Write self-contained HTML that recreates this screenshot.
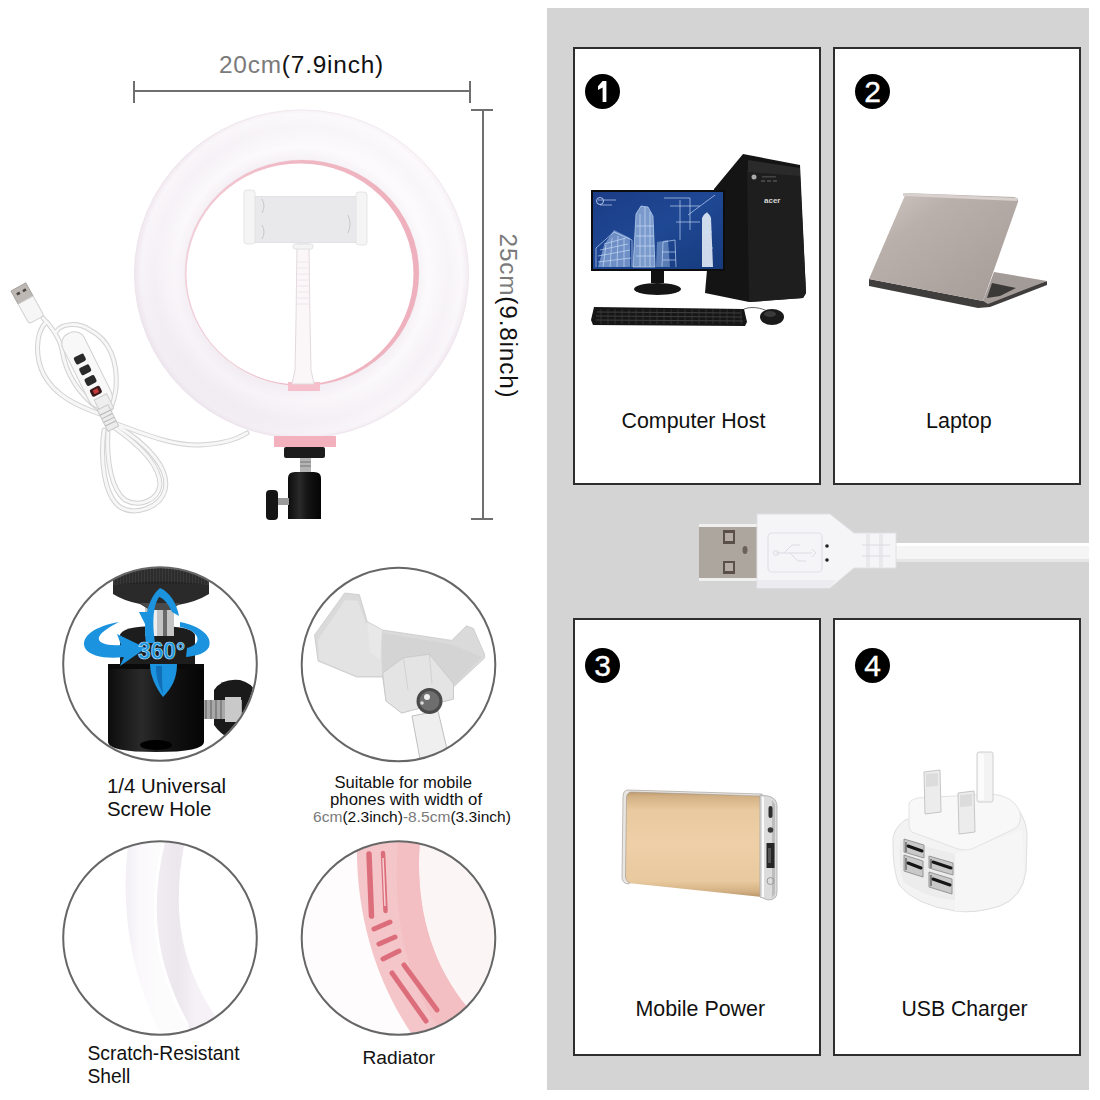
<!DOCTYPE html>
<html><head><meta charset="utf-8">
<style>
html,body{margin:0;padding:0;background:#fff;}
body{width:1100px;height:1100px;position:relative;overflow:hidden;font-family:"Liberation Sans",sans-serif;color:#111;}
.t{position:absolute;white-space:nowrap;line-height:1;}
.g{color:#7a7a7a;}
#panel{position:absolute;left:547px;top:8px;width:542px;height:1082px;background:#d4d4d4;}
.box{position:absolute;width:244px;height:434px;background:#fff;border:2px solid #2e2e2e;}
.num{position:absolute;width:35px;height:35px;border-radius:50%;background:#000;color:#fff;font-weight:normal;font-size:30px;line-height:36px;text-align:center;-webkit-text-stroke:0.35px #fff;}
svg{position:absolute;left:0;top:0;}
</style></head><body>
<div id="panel"></div>
<div class="box" style="left:573px;top:47px"></div>
<div class="box" style="left:833px;top:47px"></div>
<div class="box" style="left:573px;top:618px"></div>
<div class="box" style="left:833px;top:618px"></div>

<svg width="1100" height="1100" viewBox="0 0 1100 1100">
<defs>
<radialGradient id="ringG" cx="301.5" cy="274" r="167" gradientUnits="userSpaceOnUse">
 <stop offset="0.69" stop-color="#f4eff4"/>
 <stop offset="0.76" stop-color="#fbf9fb"/>
 <stop offset="0.88" stop-color="#f5f1f6"/>
 <stop offset="0.96" stop-color="#f9f6f9"/>
 <stop offset="1" stop-color="#efe5ed"/>
</radialGradient>
<linearGradient id="ringShade" x1="420" y1="130" x2="170" y2="420" gradientUnits="userSpaceOnUse">
 <stop offset="0" stop-color="#ffffff" stop-opacity="0.5"/>
 <stop offset="0.45" stop-color="#ffffff" stop-opacity="0"/>
 <stop offset="1" stop-color="#e6dbe8" stop-opacity="0.55"/>
</linearGradient>
<linearGradient id="pinkEdge" x1="186" y1="0" x2="418" y2="0" gradientUnits="userSpaceOnUse">
 <stop offset="0" stop-color="#f3cdd7"/><stop offset="0.4" stop-color="#f0b9c5"/><stop offset="1" stop-color="#eeb0bc"/>
</linearGradient>
<linearGradient id="blackG" x1="0" x2="1" y1="0" y2="0">
 <stop offset="0" stop-color="#0c0c0c"/><stop offset="0.35" stop-color="#2a2a2a"/><stop offset="0.6" stop-color="#141414"/><stop offset="1" stop-color="#050505"/>
</linearGradient>
<clipPath id="cA"><circle cx="160" cy="664" r="96"/></clipPath>
<clipPath id="cB"><circle cx="398.5" cy="664.5" r="96"/></clipPath>
<clipPath id="cC"><circle cx="160" cy="938" r="96"/></clipPath>
<clipPath id="cD"><circle cx="398.5" cy="938" r="96"/></clipPath>
</defs>
<!-- dimension lines -->
<g fill="#6f6f6f">
 <rect x="133" y="90" width="338" height="2"/>
 <rect x="133" y="81" width="2" height="22"/>
 <rect x="469" y="81" width="2" height="22"/>
 <rect x="482" y="109" width="2" height="411"/>
 <rect x="471" y="109" width="22" height="2"/>
 <rect x="471" y="518" width="22" height="2"/>
</g>
<!-- ring light -->
<path fill-rule="evenodd" fill="url(#ringG)" stroke="#ede4eb" stroke-width="1" d="M134.5,274 a167,164 0 1,0 334,0 a167,164 0 1,0 -334,0 Z M185,273 a117,113 0 1,0 234,0 a117,113 0 1,0 -234,0 Z"/>
<path fill-rule="evenodd" fill="url(#ringShade)" d="M134.5,274 a167,164 0 1,0 334,0 a167,164 0 1,0 -334,0 Z M186,273 a116,113 0 1,0 232,0 a116,113 0 1,0 -232,0 Z"/>
<path fill-rule="evenodd" fill="url(#pinkEdge)" d="M185,273 a117,113 0 1,0 234,0 a117,113 0 1,0 -234,0 Z M186.5,274 a113.5,110.5 0 1,0 227,0 a113.5,110.5 0 1,0 -227,0 Z"/>
<!-- pink block inside bottom -->
<rect x="288" y="382" width="32" height="9" fill="#f5c0cb"/>
<!-- gooseneck -->
<path d="M297,244 L309,244 L310,320 L311,370 L314,384 L292,384 L295,370 L296,320 Z" fill="#fbf6f8" stroke="#e3d9df" stroke-width="1"/>
<g stroke="#ece2e7" stroke-width="0.8">
 <line x1="297" y1="262" x2="309" y2="262"/><line x1="297" y1="268" x2="309" y2="268"/><line x1="297" y1="274" x2="309" y2="274"/><line x1="297" y1="280" x2="309" y2="280"/><line x1="296" y1="286" x2="310" y2="286"/><line x1="296" y1="292" x2="310" y2="292"/><line x1="296" y1="298" x2="310" y2="298"/><line x1="296" y1="304" x2="310" y2="304"/>
</g>
<rect x="293" y="244" width="20" height="5" rx="2" fill="#f4f4f4" stroke="#dddddd" stroke-width="0.8"/>
<!-- phone holder -->
<rect x="253" y="196.5" width="105" height="46" fill="#e9e9eb" stroke="#dedee0" stroke-width="0.8"/>
<path d="M262,199 Q266,206 262,213 M262,225 Q266,232 262,239 M348,215 Q352,224 348,233" stroke="#c8c8ca" stroke-width="1" fill="none"/>
<rect x="244" y="190" width="11" height="54" rx="3" fill="#f5f5f5" stroke="#e0e0e0" stroke-width="0.8"/>
<rect x="356" y="192" width="11" height="53" rx="3" fill="#f5f5f5" stroke="#e0e0e0" stroke-width="0.8"/>
<!-- pink mount -->
<rect x="274" y="436" width="62" height="11" fill="#f2b1bd"/>
<rect x="284" y="447" width="41" height="11" rx="2" fill="#1c1c1c"/>
<rect x="300" y="458" width="11" height="14" fill="#b4b4b4"/>
<line x1="300" y1="462" x2="311" y2="462" stroke="#777" stroke-width="1"/><line x1="300" y1="466" x2="311" y2="466" stroke="#777" stroke-width="1"/>
<path d="M288,478 Q288,472 295,472 L314,472 Q321,472 321,478 L321,519 L288,519 Z" fill="url(#blackG)"/>
<rect x="275" y="498" width="14" height="7" fill="#9a9a9a"/>
<rect x="266" y="490" width="12" height="30" rx="4" fill="#151515"/>
<!-- cable -->
<g fill="none" stroke-linecap="round">
 <g stroke="#d2d2d2" stroke-width="5">
  <path d="M114,423 C140,432 170,446 200,445 C220,444 236,440 247,433"/>
  <path d="M104,430 C100,460 104,495 120,507 C135,516 160,508 165,490 C170,470 150,445 114,424"/>
  <path d="M108,430 C106,462 112,490 125,500 C140,508 158,500 160,485 C160,465 140,445 112,426"/>
  <path d="M43,318 C50,325 60,338 62,350 C66,375 80,395 100,410"/>
  <path d="M46,322 C34,335 36,360 44,375 C55,395 75,405 100,414"/>
  <path d="M56,332 C62,322 80,323 90,330 C110,340 118,362 116,388 C115,398 112,405 110,410"/>
 </g>
 <g stroke="#f7f7f7" stroke-width="3">
  <path d="M114,423 C140,432 170,446 200,445 C220,444 236,440 247,433"/>
  <path d="M104,430 C100,460 104,495 120,507 C135,516 160,508 165,490 C170,470 150,445 114,424"/>
  <path d="M108,430 C106,462 112,490 125,500 C140,508 158,500 160,485 C160,465 140,445 112,426"/>
  <path d="M43,318 C50,325 60,338 62,350 C66,375 80,395 100,410"/>
  <path d="M46,322 C34,335 36,360 44,375 C55,395 75,405 100,414"/>
  <path d="M56,332 C62,322 80,323 90,330 C110,340 118,362 116,388 C115,398 112,405 110,410"/>
 </g>
</g>
<!-- controller -->
<g transform="translate(87,370) rotate(63.5)">
 <rect x="-41" y="-12" width="82" height="24" rx="11" fill="#f8f8f8" stroke="#d2d2d2" stroke-width="1"/>
 <rect x="30" y="-7" width="16" height="14" fill="#eeeeee" stroke="#cfcfcf" stroke-width="1"/>
 <rect x="-17" y="-4" width="8" height="11" rx="2" fill="#2a2a2a"/>
 <rect x="-5" y="-4" width="8" height="11" rx="2" fill="#2a2a2a"/>
 <rect x="7" y="-4" width="8" height="11" rx="2" fill="#2a2a2a"/>
 <rect x="19" y="-4" width="8" height="11" rx="2" fill="#3a1a1a"/>
 <rect x="21" y="-1" width="4" height="5" fill="#c83a3a"/>
</g>
<g transform="translate(108,418) rotate(63.5)">
 <rect x="-12" y="-6" width="24" height="12" fill="#ececec" stroke="#c8c8c8" stroke-width="1"/>
 <g stroke="#b8b8b8" stroke-width="1"><line x1="-6" y1="-6" x2="-6" y2="6"/><line x1="-2" y1="-6" x2="-2" y2="6"/><line x1="2" y1="-6" x2="2" y2="6"/><line x1="6" y1="-6" x2="6" y2="6"/></g>
</g>
<!-- usb plug small -->
<g transform="translate(22,293.5) rotate(-29)">
 <rect x="-8.5" y="-7.5" width="17" height="15" fill="#bdb8b3" stroke="#a09b96" stroke-width="0.8"/>
 <rect x="-5" y="-3" width="3.5" height="2.6" fill="#4a4540"/><rect x="2" y="-3" width="3.5" height="2.6" fill="#4a4540"/>
 <path d="M-8.5,7.5 L8.5,7.5 L8.5,27 Q8.5,30 5.5,30 L-5.5,30 Q-8.5,30 -8.5,27 Z" fill="#f6f6f6" stroke="#d0d0d0" stroke-width="1"/>
</g>

<!-- circle A: ball head -->
<g clip-path="url(#cA)">
 <!-- knob right -->
 <path d="M214,690 Q222,678 240,680 Q256,684 258,700 L258,730 Q250,745 232,740 Q220,734 214,725 Z" fill="#1a1a1a"/>
 <rect x="202" y="700" width="40" height="19" fill="#a8a8a8"/>
 <rect x="225" y="697" width="16" height="25" fill="#c9c9c9"/>
 <g stroke="#6a6a6a" stroke-width="1.2"><line x1="206" y1="700" x2="206" y2="719"/><line x1="211" y1="700" x2="211" y2="719"/><line x1="216" y1="700" x2="216" y2="719"/><line x1="221" y1="700" x2="221" y2="719"/></g>
 <!-- lower cylinder -->
 <path d="M108,668 L204,668 L204,742 Q204,752 156,752 Q108,752 108,742 Z" fill="url(#blackG)"/>
 <ellipse cx="156" cy="745" rx="16" ry="5" fill="#000"/>
 <!-- upper socket -->
 <path d="M120,636 Q120,626 157,626 Q195,626 195,636 L195,668 L120,668 Z" fill="#1d1d1d"/>
 <rect x="108" y="664" width="96" height="5" fill="#0a0a0a"/>
 <!-- screw stem -->
 <rect x="145" y="600" width="29" height="36" fill="#c4c4c4"/>
 <rect x="151" y="600" width="6" height="36" fill="#eeeeee"/><rect x="163" y="600" width="4" height="36" fill="#6a6a6a"/>
 <!-- top plate -->
 <path d="M113,560 L209,560 L209,594 Q196,602 178,605 L170,610 L150,610 L140,604 Q124,601 113,594 Z" fill="#2a2a2a"/>
 <path d="M113,560 L209,560 L209,585 Q160,578 113,585 Z" fill="#3a3a3a"/>
 <g stroke="#1a1a1a" stroke-width="0.8"><line x1="116" y1="566" x2="116" y2="584"/><line x1="119" y1="566" x2="119" y2="584"/><line x1="122" y1="566" x2="122" y2="584"/><line x1="125" y1="566" x2="125" y2="584"/><line x1="128" y1="566" x2="128" y2="584"/><line x1="131" y1="566" x2="131" y2="584"/><line x1="134" y1="566" x2="134" y2="584"/><line x1="137" y1="566" x2="137" y2="584"/><line x1="140" y1="566" x2="140" y2="584"/><line x1="143" y1="566" x2="143" y2="584"/><line x1="146" y1="566" x2="146" y2="584"/><line x1="149" y1="566" x2="149" y2="584"/><line x1="152" y1="566" x2="152" y2="584"/><line x1="155" y1="566" x2="155" y2="584"/><line x1="158" y1="566" x2="158" y2="584"/><line x1="161" y1="566" x2="161" y2="584"/><line x1="164" y1="566" x2="164" y2="584"/><line x1="167" y1="566" x2="167" y2="584"/><line x1="170" y1="566" x2="170" y2="584"/><line x1="173" y1="566" x2="173" y2="584"/><line x1="176" y1="566" x2="176" y2="584"/><line x1="179" y1="566" x2="179" y2="584"/><line x1="182" y1="566" x2="182" y2="584"/><line x1="185" y1="566" x2="185" y2="584"/><line x1="188" y1="566" x2="188" y2="584"/><line x1="191" y1="566" x2="191" y2="584"/><line x1="194" y1="566" x2="194" y2="584"/><line x1="197" y1="566" x2="197" y2="584"/><line x1="200" y1="566" x2="200" y2="584"/><line x1="203" y1="566" x2="203" y2="584"/><line x1="206" y1="566" x2="206" y2="584"/></g>
 <path d="M140,603 L180,603 L172,610 L150,610 Z" fill="#4a4a4a"/>
<!-- blue arrows -->
 <path d="M146,643 C143,620 148,598 160,588 C170,592 177,604 179,616 L172,612 C168,603 163,598 159,597 C153,606 152,622 155,643 Z" fill="#1b93de"/><path d="M139,612 L152,612 L146,626 Z" fill="#1b93de"/>
 
 <path d="M150,664 L177,664 C177,678 172,688 163,697 C156,688 150,676 150,664 Z" fill="#1b93de"/>
 <path d="M156,666 L162,666 C162,676 162,684 163,694 C158,684 156,676 156,666 Z" fill="#0d5fa8" opacity="0.7"/>
 <path d="M119,622 C96,626 80,636 85,648 C90,657 108,659 124,657 L120,666 L146,648 L117,634 L121,645 C107,646 97,643 99,637 C102,631 110,627 119,622 Z" fill="#1b93de"/>
 <path d="M180,622 C200,626 213,636 209,647 C206,653 197,656 186,657 L187,648 C196,646 200,640 196,635 C192,630 186,628 180,627 Z" fill="#1b93de"/>
</g>
<text x="138" y="659" font-family="Liberation Sans" font-weight="bold" font-size="24" textLength="47" lengthAdjust="spacingAndGlyphs" fill="#1b93de" stroke="#bfe0f7" stroke-width="0.7">360°</text>
<circle cx="160" cy="664" r="96.8" fill="none" stroke="#666" stroke-width="2"/>

<!-- circle B: phone clamp -->
<g clip-path="url(#cB)">
 <path d="M314.5,635 L344.7,593 L359.4,594.7 L367.2,621.5 L382.7,630 L451.8,640.4 L466.5,625.8 L473.4,628.4 L484.6,654.3 L484.6,658 L453.5,687 L453.5,699 L401.7,713 L386,701 L382.7,677 L356.8,677 L318,661 Z" fill="#dadada" stroke="#c9c9c9" stroke-width="0.8"/>
 <path d="M318,640 L345,600 L358,601 L366,624 L380,633 L382,676 L357,676 L319,660 Z" fill="#e3e3e3"/>
 <path d="M382,633 L450,644 L482,657 L453,686 L400,660 L382,676 Z" fill="#d4d4d4"/>
 <path d="M367,622 L382,630 L380,660 L370,652 Z" fill="#e8e8e8"/>
 <path d="M382.7,673 L403.4,657.7 L429.4,654.3 L453.5,683.6 L453.5,699 L401.7,713 L386,701 Z" fill="#e4e4e4" stroke="#c6c6c6" stroke-width="0.8"/>
 <path d="M403.4,657.7 L408,690 M429.4,654.3 L432,684" stroke="#cdcdcd" stroke-width="0.8" fill="none"/>
 <path d="M412,716 L438,711 L452,770 L422,770 Z" fill="#efefef" stroke="#bfbfbf" stroke-width="1"/>
 <circle cx="429.5" cy="701" r="13" fill="#4a4a4a"/>
 <circle cx="429.5" cy="701" r="10" fill="#6e6e6e"/>
 <circle cx="427" cy="697" r="3" fill="#ededed"/>
 <circle cx="422" cy="703" r="1.8" fill="#dddddd"/>
</g>
<circle cx="398.5" cy="664.5" r="96.8" fill="none" stroke="#666" stroke-width="2"/>

<!-- circle C: shell -->
<defs><linearGradient id="shellR" x1="160" y1="0" x2="195" y2="0" gradientUnits="userSpaceOnUse">
 <stop offset="0" stop-color="#f0ebf1"/><stop offset="0.5" stop-color="#ece6ed"/><stop offset="1" stop-color="#f5f1f6"/></linearGradient>
<linearGradient id="shellL" x1="124" y1="0" x2="160" y2="0" gradientUnits="userSpaceOnUse">
 <stop offset="0" stop-color="#f1edf4"/><stop offset="0.4" stop-color="#faf8fb"/><stop offset="1" stop-color="#fdfcfd"/></linearGradient></defs>
<g clip-path="url(#cC)">
 <path d="M129,836 C121,900 126,960 160,1034 L218,1020 C176,960 172,900 186,836 Z" fill="url(#shellL)"/>
 <path d="M165,836 C149,900 151,960 190,1030 L218,1020 C176,960 172,900 186,836 Z" fill="url(#shellR)"/>
 <path d="M164,840 C149,900 151,960 188,1026" stroke="#ffffff" stroke-width="3" fill="none"/>
</g>
<circle cx="160" cy="938" r="96.8" fill="none" stroke="#666" stroke-width="2"/>

<!-- circle D: radiator -->
<g clip-path="url(#cD)">
 <rect x="300" y="840" width="200" height="200" fill="#fefcfc"/>
 <path d="M418,840 L500,840 L500,1040 L440,1040 C450,1020 460,1010 466,1005 C430,960 415,900 418,840 Z" fill="#fcf5f5"/>
 <path d="M357,840 L420,840 C415,900 428,960 468,1008 L416,1040 C380,990 355,920 357,840 Z" fill="#f5c6c9"/>
 <path d="M398,840 L420,840 C415,900 428,960 468,1008 L440,1030 C405,980 392,910 398,840 Z" fill="#f3bfc2"/>
 <g stroke="#dc6e7b" stroke-linecap="round" fill="none">
  <path d="M369,854 L371.5,916" stroke-width="5.5"/>
  <path d="M383,853 L385.5,911" stroke-width="4.5"/>
  <path d="M374,929 L390,922" stroke-width="5"/>
  <path d="M379,944 L395,937" stroke-width="5"/>
  <path d="M383,959 L399,951" stroke-width="5"/>
  <path d="M392,973 L426,1021" stroke-width="5"/>
  <path d="M404,965 L437,1010" stroke-width="5"/>
 </g>
 <path d="M383,858 L385,906" stroke="#f6d0d3" stroke-width="1.5" fill="none"/>
</g>
<circle cx="398.5" cy="938" r="96.8" fill="none" stroke="#666" stroke-width="2"/>
<defs>
<linearGradient id="lidG" x1="0" y1="0" x2="1" y2="1">
 <stop offset="0" stop-color="#d2c9c6"/><stop offset="0.3" stop-color="#b9afab"/><stop offset="0.7" stop-color="#ada39f"/><stop offset="1" stop-color="#a59b97"/>
</linearGradient>
<linearGradient id="goldG" x1="0" y1="0" x2="0" y2="1">
 <stop offset="0" stop-color="#b99467"/><stop offset="0.05" stop-color="#d2b084"/><stop offset="0.18" stop-color="#e9c99f"/><stop offset="0.5" stop-color="#eecfa7"/><stop offset="0.85" stop-color="#e9c99e"/><stop offset="0.95" stop-color="#d2b083"/><stop offset="1" stop-color="#b99467"/>
</linearGradient>
<linearGradient id="screenG" x1="0" y1="0" x2="1" y2="1">
 <stop offset="0" stop-color="#1c3c86"/><stop offset="0.5" stop-color="#1f4894"/><stop offset="1" stop-color="#163a7c"/>
</linearGradient>
</defs>
<!-- PC tower -->
<path d="M743,154 L800,165 L806,293 L803,298 L749,302 L705,293 L714,189 Z" fill="#141414"/>
<path d="M747,170 L800,175 L806,293 L803,298 L749,302 Z" fill="#1e1e1e"/>
<path d="M748,160 L800,168 L800,176 L748,172 Z" fill="#2a2a2a"/>
<circle cx="754" cy="177" r="2.5" fill="#aaa"/>
<text x="764" y="203" font-family="Liberation Sans" font-weight="bold" font-size="8" fill="#d8d8d8">acer</text><g fill="#444"><rect x="761" y="180" width="4" height="2"/><rect x="767" y="180" width="4" height="2"/><rect x="773" y="180" width="4" height="2"/><rect x="762" y="176" width="14" height="1.5"/></g>
<!-- monitor -->
<rect x="591" y="190" width="134" height="81" fill="#0d0d0d"/>
<rect x="593" y="192" width="130" height="77" fill="url(#screenG)"/>
<path d="M633,267 L636,214 L641,206 L648,207 L653,216 L655,267 Z" fill="#b9d3f5" opacity="0.6"/>
<path d="M702,267 L702,218 Q707,208 711,218 L713,267 Z" fill="#eef4fc" opacity="0.85"/>
<path d="M598,267 L604,245 L614,230 L630,238 L630,267 Z" fill="#b0cbf0" opacity="0.55"/><path d="M656,267 L657,242 L668,240 L670,267 Z" fill="#a9c6ee" opacity="0.45"/>
<g fill="none" stroke="#cfe2fb" stroke-width="0.7" opacity="0.9">
 <path d="M596,267 L596,248 L614,232 L632,240 L632,267"/>
 <path d="M598,256 L630,250 M598,262 L631,258 M600,250 L628,244 M604,244 L626,238"/>
 <path d="M603,267 L606,245 M610,267 L612,238 M617,267 L618,236 M624,267 L624,238"/>
 <path d="M633,267 L636,214 L641,206 L648,207 L653,216 L655,267 Z"/>
 <path d="M636,226 L654,226 M636,236 L654,236 M636,246 L655,246 M636,256 L655,256 M640,214 L640,267 M645,207 L645,267 M650,212 L650,267"/>
 <path d="M662,267 L663,242 L675,240 L676,267 M662,252 L676,252 M663,260 L676,260"/>
 <path d="M707,212 L707,267 M702,232 L712,232 M702,248 L713,248"/>
 <path d="M664,198 L690,198 L690,230 M670,206 L700,206 M680,200 L680,240 M688,215 L715,195 M676,222 L700,222"/>
 <path d="M598,200 L616,200 M600,205 L612,205"/>
</g>
<circle cx="600" cy="201" r="3.5" fill="none" stroke="#cfe2fb" stroke-width="0.8"/>
<rect x="651" y="271" width="13" height="12" fill="#111"/>
<ellipse cx="657.5" cy="289" rx="23.5" ry="6" fill="#151515"/>
<!-- keyboard -->
<path d="M594,307 L744,309 L747,322 L745,326 L593,325 L591,320 Z" fill="#161616"/>
<g stroke="#4a4a4a" stroke-width="0.8"><line x1="597" y1="312" x2="741" y2="313"/><line x1="596" y1="316" x2="742" y2="317"/><line x1="596" y1="320" x2="743" y2="321"/></g><g stroke="#3c3c3c" stroke-width="0.7"><line x1="601" y1="309" x2="601" y2="324"/><line x1="608" y1="309" x2="608" y2="324"/><line x1="615" y1="309" x2="615" y2="324"/><line x1="622" y1="309" x2="622" y2="324"/><line x1="629" y1="309" x2="629" y2="324"/><line x1="636" y1="309" x2="636" y2="324"/><line x1="643" y1="309" x2="643" y2="324"/><line x1="650" y1="309" x2="650" y2="324"/><line x1="657" y1="309" x2="657" y2="324"/><line x1="664" y1="309" x2="664" y2="324"/><line x1="671" y1="309" x2="671" y2="324"/><line x1="678" y1="309" x2="678" y2="324"/><line x1="685" y1="309" x2="685" y2="324"/><line x1="692" y1="309" x2="692" y2="324"/><line x1="699" y1="309" x2="699" y2="324"/><line x1="706" y1="309" x2="706" y2="324"/><line x1="713" y1="309" x2="713" y2="324"/><line x1="720" y1="309" x2="720" y2="324"/><line x1="727" y1="309" x2="727" y2="324"/><line x1="734" y1="309" x2="734" y2="324"/><line x1="741" y1="309" x2="741" y2="324"/></g>
<path d="M744,309 C755,305 765,310 770,312" fill="none" stroke="#666" stroke-width="1"/>
<ellipse cx="772" cy="317" rx="12" ry="8" fill="#1a1a1a"/>
<ellipse cx="770" cy="314" rx="6" ry="3" fill="#3a3a3a"/>

<!-- laptop -->
<path d="M869,279 L983,301 L1047,281 L1047,285 L990,307 L978,308 L869,286 Z" fill="#403d3d"/>
<path d="M994,272 L1047,281 L988,304 L983,301 Z" fill="#a39b97"/>
<path d="M992,283 L1016,288 L1000,296 L987,298 Z" fill="#3b3838"/>
<path d="M906,193 L1014,197 Q1019,198 1018,202 L983,301 L869,279 Z" fill="url(#lidG)"/>
<path d="M903,193 L1018,198 L1017,201 L903,196 Z" fill="#d9d1ce"/>
<!-- USB connector -->
<rect x="896" y="543" width="193" height="19" fill="#f5f5f5"/>
<rect x="896" y="543" width="193" height="3" fill="#ffffff"/>
<rect x="896" y="559" width="193" height="3" fill="#e6e6e6"/>
<rect x="699" y="524" width="58" height="57" fill="#aca69f"/>
<rect x="699" y="524" width="58" height="3" fill="#f0f0f0"/>
<rect x="699" y="578" width="58" height="3" fill="#f0f0f0"/>
<rect x="723" y="530" width="12" height="14" fill="#5b5048"/><rect x="725" y="533" width="8" height="8" fill="#b5ada5"/>
<rect x="723" y="561" width="12" height="13" fill="#5b5048"/><rect x="725" y="563" width="8" height="8" fill="#b5ada5"/>
<ellipse cx="745" cy="550" rx="2.5" ry="4" fill="#6a625a"/>
<path d="M757,514 L830,514 L854,533 L896,533 L896,568 L854,568 L830,588 L757,588 Z" fill="#f5f5f8" stroke="#e0e0e4" stroke-width="1"/><path d="M757,580 L836,580 L830,588 L757,588 Z" fill="#ececf0"/>
<rect x="768" y="533" width="54" height="39" rx="4" fill="none" stroke="#e2e2e6" stroke-width="1.2"/>
<g stroke="#dcdce2" stroke-width="1" fill="none"><path d="M776,553 L812,553"/><path d="M784,553 L792,545 L800,545"/><path d="M790,553 L798,561 L806,561"/><path d="M812,549 L816,553 L812,557"/><circle cx="776" cy="553" r="2.5"/></g>
<circle cx="827" cy="546" r="1.8" fill="#222"/><circle cx="827" cy="560" r="1.8" fill="#222"/>
<g fill="#e9e9ec"><rect x="866" y="533" width="4" height="35"/><rect x="879" y="533" width="4" height="35"/></g><g stroke="#dcdce0" stroke-width="1"><line x1="862" y1="545" x2="890" y2="545"/><line x1="862" y1="556" x2="890" y2="556"/></g>

<!-- power bank -->
<path d="M628,791 L762,796 L762,897 L628,883 Q623,882 623,877 L624,797 Q624,791 628,791 Z" fill="url(#goldG)"/>
<path d="M628,790 Q623,790 623,797 L622,877 Q622,883 628,884 L630,883 Q625.5,881 625.5,876 L626.5,798 Q626.5,793 631,792 L762,796 L762,794 Z" fill="#e9e6e2" stroke="#9a958f" stroke-width="0.6"/>
<path d="M760,795 L768,796 Q777,798 777,806 L777,892 Q777,900 768,900 L760,897 Z" fill="#dcdcdc" stroke="#a8a8a8" stroke-width="0.8"/>
<path d="M762,797 L764,797 L764,897 L762,897 Z" fill="#fbfbfb"/>
<path d="M772,800 L775,804 L775,894 L772,898 Z" fill="#bdbdbd"/>
<rect x="768.5" y="806" width="4" height="12" rx="2" fill="#2f2f2f"/>
<circle cx="770.5" cy="830" r="2.8" fill="#3a3a3a"/>
<rect x="766.5" y="843" width="8" height="25" fill="#262626"/>
<rect x="768" y="848" width="3" height="15" fill="#555"/>
<circle cx="770.5" cy="881" r="3.5" fill="none" stroke="#9a9a9a" stroke-width="1"/>
<!-- USB charger -->
<path d="M893,845 Q891,830 905,820 L985,800 Q1012,796 1020,812 Q1028,825 1027,840 L1026,872 Q1022,898 1000,906 Q975,914 955,911 Q915,905 899,885 Q893,870 893,845 Z" fill="#f3f3f3" stroke="#dedede" stroke-width="1"/>
<path d="M900,840 L955,854 L955,900 Q925,898 904,882 Q898,870 900,840 Z" fill="#ececec"/>
<path d="M955,854 L1022,830 L1024,872 Q1020,896 1000,905 Q975,912 955,911 Z" fill="#f6f6f6"/>
<path d="M909,806 Q908,800 918,798 L992,794 Q1014,796 1020,812 Q1022,822 1016,828 L972,849 Q966,851 958,849 L912,832 Q908,829 909,820 Z" fill="#f8f8f8" stroke="#e3e3e3" stroke-width="1"/>
<rect x="977" y="752" width="16" height="50" rx="2" fill="#f3f3f3" stroke="#cfcfcf" stroke-width="1"/>
<rect x="978" y="754" width="6" height="46" fill="#fbfbfb"/>
<path d="M924,772 L940,770 L941,812 L925,814 Z" fill="#ececec" stroke="#c6c6c6" stroke-width="1"/>
<path d="M926,774 L938,773 L938,786 L926,787 Z" fill="#dcdcdc"/>
<path d="M958,793 L974,791 L975,832 L959,834 Z" fill="#ececec" stroke="#c6c6c6" stroke-width="1"/>
<path d="M960,795 L972,794 L972,806 L960,807 Z" fill="#dcdcdc"/>
<g fill="#c9c9c9" stroke="#8f8f8f" stroke-width="0.9">
 <path d="M904,839 L924,845 L924,858 L904,852 Z"/><path d="M904,855 L923,861 L923,877 L904,871 Z"/>
 <path d="M929,856 L953,863 L953,875 L929,868 Z"/><path d="M929,872 L952,879 L952,894 L929,887 Z"/>
</g>
<g stroke="#151515" stroke-width="3" fill="none" stroke-linecap="round">
 <path d="M908,846 L922,851"/><path d="M908,863 L921,868"/>
 <path d="M933,862 L951,868"/><path d="M933,879 L950,885"/>
</g>
<g stroke="#555" stroke-width="1.2" fill="none"><path d="M906,842 L906,852"/><path d="M906,858 L906,870"/><path d="M931,859 L931,868"/><path d="M931,875 L931,886"/></g>
</svg>

<div class="num" style="left:585px;top:74px"><svg width="35" height="35" viewBox="585 74 35 35" style="position:absolute;left:0;top:0"><path d="M602.6,81 L606.4,81 L606.4,102 L602.6,102 L602.6,87.6 L598,90 L598,86.2 Z" fill="#fff"/></svg></div>
<div class="num" style="left:855px;top:74px">2</div>
<div class="num" style="left:585px;top:648px">3</div>
<div class="num" style="left:855px;top:648px">4</div>

<div class="t" style="left:621.5px;top:411px;font-size:21.4px">Computer Host</div>
<div class="t" style="left:926px;top:411px;font-size:21.5px">Laptop</div>
<div class="t" style="left:635.5px;top:999px;font-size:21.4px">Mobile Power</div>
<div class="t" style="left:901.5px;top:998px;font-size:21.2px">USB Charger</div>

<div class="t" style="left:219px;top:53px;font-size:24.4px;letter-spacing:0.8px"><span class="g">20cm</span>(7.9inch)</div>
<div class="t" style="left:507.5px;top:315.5px;font-size:24.4px;letter-spacing:0.8px;transform:translate(-50%,-50%) rotate(90deg);transform-origin:50% 50%;" id="vt"><span class="g">25cm</span>(9.8inch)</div>
<div class="t" style="left:107px;top:775.5px;font-size:20.4px">1/4 Universal</div>
<div class="t" style="left:107px;top:799px;font-size:20.4px">Screw Hole</div>
<div class="t" style="left:334.5px;top:774.5px;font-size:16.6px">Suitable for mobile</div>
<div class="t" style="left:330px;top:792px;font-size:16.8px">phones with width of</div>
<div class="t" style="left:313px;top:808.5px;font-size:15.55px"><span class="g">6cm</span>(2.3inch)<span class="g">-8.5cm</span>(3.3inch)</div>
<div class="t" style="left:87.5px;top:1043.5px;font-size:19.3px">Scratch-Resistant</div>
<div class="t" style="left:87.5px;top:1066.5px;font-size:19.3px">Shell</div>
<div class="t" style="left:362.5px;top:1047.5px;font-size:19.2px">Radiator</div>
</body></html>
